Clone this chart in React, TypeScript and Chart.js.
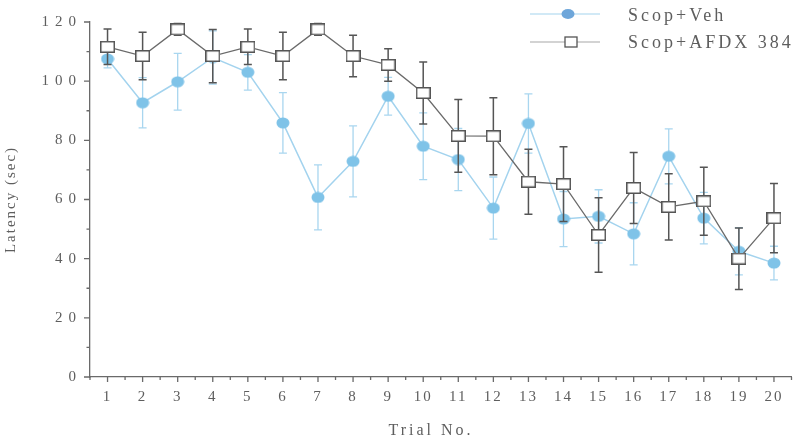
import { useEffect, useRef } from 'react';
import { Chart, registerables } from 'chart.js';

Chart.register(...registerables);

// Trial numbers along the x axis
const trials = ['1', '2', '3', '4', '5', '6', '7', '8', '9', '10', '11', '12', '13', '14', '15', '16', '17', '18', '19', '20'];

// Scop+Veh group: mean latency (sec) and error per trial
const vehMeans = [107.5, 92.7, 99.8, 108, 103, 85.9, 60.7, 72.9, 94.9, 78, 73.5, 57.1, 85.7, 53.4, 54.3, 48.4, 74.6, 53.7, 42.5, 38.5];
const vehErrors = [3, 8.5, 9.6, 9, 6, 10.2, 11, 12, 6.4, 11.3, 10.5, 10.5, 10, 9.3, 9, 10.5, 9.3, 8.7, 8, 5.7];

// Scop+AFDX 384 group: mean latency (sec) and error per trial
const afdxMeans = [111.6, 108.5, 117.5, 108.5, 111.6, 108.5, 117.5, 108.5, 105.5, 96, 81.5, 81.4, 66, 65.2, 48, 63.9, 57.5, 59.4, 40, 53.7];
const afdxErrors = [6, 8, 2, 9, 6, 8, 2, 7, 5.5, 10.5, 12.3, 13, 11, 12.6, 12.6, 12, 11.2, 11.5, 10.4, 11.7];

const seriesNames = ['Scop+Veh', 'Scop+AFDX 384'];
const xTitle = 'Trial No.';
const yTitle = 'Latency (sec)';

const FONT = "'Liberation Serif', 'Times New Roman', serif";
const TEXT = '#5e5e5e';
const AXIS = '#6a6a6a';
const VEH_FILL = '#7fc3e8';
const VEH_LINE = '#a3d3ee';
const VEH_LEGEND = '#6ea6da';
const AFDX_LINE = '#6a6a6a';
const AFDX_EDGE = '#555555';

function ellipseImage(w: number, h: number, fill: string) {
  const c = document.createElement('canvas');
  c.width = w;
  c.height = h;
  const g = c.getContext('2d')!;
  g.beginPath();
  g.ellipse(w / 2, h / 2, w / 2 - 0.5, h / 2 - 0.5, 0, 0, Math.PI * 2);
  g.fillStyle = fill;
  g.fill();
  return c;
}

function boxImage(w: number, h: number, edge: string) {
  const c = document.createElement('canvas');
  c.width = w;
  c.height = h;
  const g = c.getContext('2d')!;
  g.fillStyle = '#ffffff';
  g.fillRect(0, 0, w, h);
  g.strokeStyle = edge;
  g.lineWidth = 1.5;
  g.strokeRect(0.75, 0.75, w - 1.5, h - 1.5);
  return c;
}

// Vertical error bars with caps, drawn just before each dataset so markers sit on top
const errorBars = {
  id: 'errorBars',
  beforeDatasetDraw(chart: any, args: any) {
    const ds = chart.data.datasets[args.index];
    const errs: number[] = ds.errors;
    if (!errs) return;
    const xs = chart.scales.x;
    const ys = chart.scales.y;
    const ctx = chart.ctx;
    ctx.save();
    ctx.strokeStyle = ds.errorColor;
    ctx.lineWidth = ds.errorWidth;
    (ds.data as number[]).forEach((v, i) => {
      const x = xs.getPixelForValue(i);
      const top = ys.getPixelForValue(v + errs[i]);
      const bot = ys.getPixelForValue(v - errs[i]);
      ctx.beginPath();
      ctx.moveTo(x, top);
      ctx.lineTo(x, bot);
      ctx.moveTo(x - 4, top);
      ctx.lineTo(x + 4, top);
      ctx.moveTo(x - 4, bot);
      ctx.lineTo(x + 4, bot);
      ctx.stroke();
    });
    ctx.restore();
  },
};

// Spaced lettering for chart text; the y labels are set wider still
const lettering = {
  id: 'lettering',
  afterLayout(chart: any) {
    const ys = chart.scales.y;
    if (ys && !ys.__spaced) {
      const base = ys.drawLabels.bind(ys);
      ys.drawLabels = (area: any) => {
        const ctx = chart.ctx;
        const prev = ctx.letterSpacing;
        ctx.letterSpacing = '6px';
        base(area);
        ctx.letterSpacing = prev;
      };
      ys.__spaced = true;
    }
  },
  beforeDraw(chart: any) {
    chart.ctx.letterSpacing = '2px';
  },
};

// Outward tick marks (major and minor), the x title and the legend block
const ticksAndLegend = {
  id: 'ticksAndLegend',
  afterDraw(chart: any) {
    const ctx = chart.ctx;
    const xs = chart.scales.x;
    const ys = chart.scales.y;
    const area = chart.chartArea;
    ctx.save();
    ctx.strokeStyle = AXIS;
    ctx.lineWidth = 1.3;
    ctx.beginPath();
    for (let v = 0; v <= 120; v += 10) {
      const y = ys.getPixelForValue(v);
      const len = v % 20 === 0 ? 6 : 3.5;
      ctx.moveTo(area.left, y);
      ctx.lineTo(area.left - len, y);
    }
    const step = xs.getPixelForValue(1) - xs.getPixelForValue(0);
    for (let i = 0; i < trials.length; i++) {
      const x = xs.getPixelForValue(i);
      ctx.moveTo(x, area.bottom);
      ctx.lineTo(x, area.bottom + 5);
      ctx.moveTo(x - step / 2, area.bottom);
      ctx.lineTo(x - step / 2, area.bottom + 3);
    }
    ctx.moveTo(area.right, area.bottom);
    ctx.lineTo(area.right, area.bottom + 3);
    ctx.stroke();

    // x axis title
    ctx.letterSpacing = '3px';
    ctx.font = `16px ${FONT}`;
    ctx.fillStyle = TEXT;
    ctx.textBaseline = 'middle';
    ctx.textAlign = 'center';
    ctx.fillText(xTitle, 431, 431);

    // legend
    ctx.font = `18px ${FONT}`;
    ctx.textAlign = 'left';

    ctx.lineWidth = 1.2;
    ctx.strokeStyle = VEH_LINE;
    ctx.beginPath();
    ctx.moveTo(530, 14);
    ctx.lineTo(600, 14);
    ctx.stroke();
    ctx.fillStyle = VEH_LEGEND;
    ctx.beginPath();
    ctx.ellipse(568, 14, 6.5, 5, 0, 0, Math.PI * 2);
    ctx.fill();

    ctx.strokeStyle = '#a8a8a8';
    ctx.beginPath();
    ctx.moveTo(530, 42);
    ctx.lineTo(600, 42);
    ctx.stroke();
    ctx.fillStyle = '#ffffff';
    ctx.fillRect(565, 37, 12, 10);
    ctx.strokeStyle = AFDX_EDGE;
    ctx.lineWidth = 1.3;
    ctx.strokeRect(565, 37, 12, 10);

    ctx.fillStyle = TEXT;
    ctx.fillText(seriesNames[0], 628, 16);
    ctx.fillText(seriesNames[1], 628, 43);
    ctx.restore();
  },
};

export default function App() {
  const ref = useRef<HTMLCanvasElement>(null);

  useEffect(() => {
    if (!ref.current) return;
    const vehMarker = ellipseImage(14, 12, VEH_FILL);
    const afdxMarker = boxImage(15, 12, AFDX_EDGE);

    const chart = new Chart(ref.current, {
      type: 'line',
      data: {
        labels: trials,
        datasets: [
          {
            label: seriesNames[1],
            data: afdxMeans,
            errors: afdxErrors,
            errorColor: '#555555',
            errorWidth: 1.5,
            borderColor: AFDX_LINE,
            borderWidth: 1.3,
            pointStyle: afdxMarker,
            pointRadius: 7,
            pointHoverRadius: 7,
            tension: 0,
            clip: false,
          } as any,
          {
            label: seriesNames[0],
            data: vehMeans,
            errors: vehErrors,
            errorColor: '#a9d6ef',
            errorWidth: 1.3,
            borderColor: VEH_LINE,
            borderWidth: 1.5,
            pointStyle: vehMarker,
            pointRadius: 7,
            pointHoverRadius: 7,
            tension: 0,
            clip: false,
          } as any,
        ],
      },
      options: {
        animation: false,
        responsive: false,
        events: [],
        layout: { padding: { top: 22, right: 8, left: 0, bottom: 0 } },
        plugins: {
          legend: { display: false },
          tooltip: { enabled: false },
        },
        scales: {
          x: {
            type: 'category',
            offset: true,
            grid: { display: false, drawTicks: false },
            border: { display: true, color: AXIS, width: 1.3 },
            ticks: {
              color: TEXT,
              font: { family: FONT, size: 15 },
              padding: 11,
              maxRotation: 0,
              autoSkip: false,
            },
            afterFit: (s: any) => {
              s.height = 68;
            },
          },
          y: {
            min: 0,
            max: 120,
            grid: { display: false, drawTicks: false },
            border: { display: true, color: AXIS, width: 1.3 },
            ticks: {
              stepSize: 20,
              color: TEXT,
              font: { family: FONT, size: 15 },
              padding: 8,
            },
            title: {
              display: true,
              text: yTitle,
              color: TEXT,
              font: { family: FONT, size: 15 },
              padding: { top: 2, bottom: 0 },
            },
            afterFit: (s: any) => {
              s.width = 90;
            },
          },
        },
      },
      plugins: [lettering, errorBars, ticksAndLegend],
    });
    return () => chart.destroy();
  }, []);

  return (
    <div style={{ position: 'absolute', left: 0, top: 0, width: 800, height: 445, background: '#fff' }}>
      <canvas ref={ref} width={800} height={445} />
    </div>
  );
}
